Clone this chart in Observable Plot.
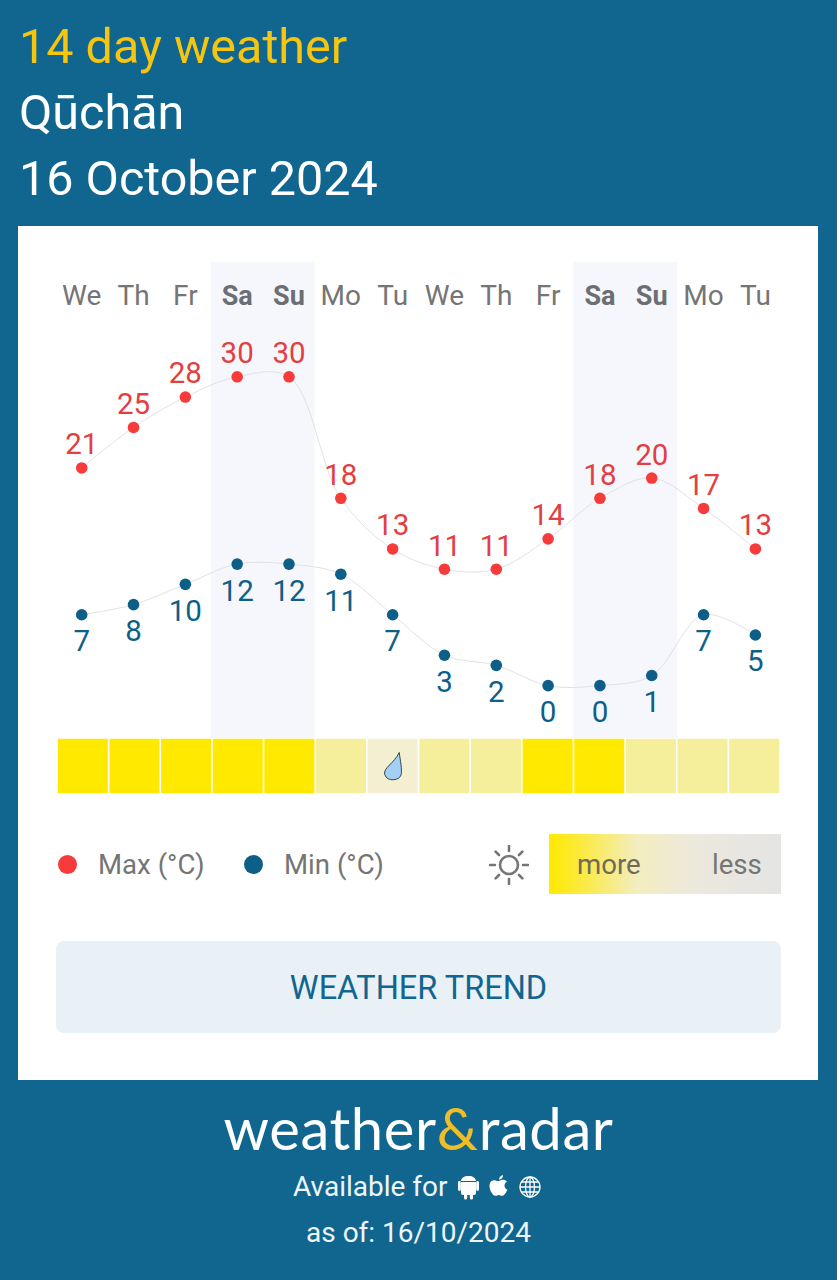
<!DOCTYPE html>
<html>
<head>
<meta charset="utf-8">
<script src="https://cdn.jsdelivr.net/npm/d3@7"></script>
<script src="https://cdn.jsdelivr.net/npm/@observablehq/plot@0.6"></script>
<style>
html,body{margin:0;padding:0;background:#10668f;}
#page{position:relative;width:837px;height:1280px;overflow:hidden;background:#10668f;font-family:Roboto,sans-serif;}
.abs{position:absolute;white-space:nowrap;}
.line{left:19px;font-size:48.5px;line-height:60px;color:#fff;}
#card{position:absolute;left:18px;top:226px;width:800px;height:854px;background:#fff;}
.plot{position:absolute;left:0;display:block;}
.leg{font-size:27.6px;line-height:36px;color:#757575;}
.dot{width:19px;height:19px;border-radius:50%;}
#grad{left:549px;top:834px;width:232px;height:60px;background:linear-gradient(to right,#ffe900 0%,#fbea40 14%,#f3edc0 38%,#ece9dc 62%,#e4e4e4 100%);}
#btn{left:56px;top:941px;width:725px;height:92px;background:#e9f0f6;border-radius:8px;color:#10668f;font-size:32.5px;line-height:94px;text-align:center;}
#logo{left:0;width:837px;top:1090px;text-align:center;color:#fff;font-family:Lato,sans-serif;font-size:58px;line-height:76px;letter-spacing:.6px;}
#logo span{color:#efbd27;font-weight:400;}
.foot{color:#eef6fa;font-size:28px;line-height:36px;}
</style>
</head>
<body>
<div id="page">
  <div class="abs line" style="top:17px;color:#f5c50f">14 day weather</div>
  <div class="abs line" style="top:83px">Qūchān</div>
  <div class="abs line" style="top:149px">16 October 2024</div>
  <div id="card"></div>
  <div id="chart"></div>
  <div id="strip"></div>

  <div class="abs dot" style="left:58px;top:855px;background:#f73b3b"></div>
  <div class="abs leg" style="left:98px;top:847px">Max (°C)</div>
  <div class="abs dot" style="left:244px;top:855px;background:#0e5f88"></div>
  <div class="abs leg" style="left:284px;top:847px">Min (°C)</div>
  <svg class="abs" style="left:489px;top:845px" width="40" height="40" viewBox="-20 -20 40 40" fill="none" stroke="#757575" stroke-width="2.6" stroke-linecap="round">
    <circle r="9"/>
    <path d="M0-19V-14M0 14V19M-19 0H-14M14 0H19M-13.4-13.4L-10-10M10 10L13.4 13.4M-13.4 13.4L-10 10M10-10L13.4-13.4"/>
  </svg>
  <div class="abs" id="grad"></div>
  <div class="abs leg" style="left:577px;top:847px;color:#6e6c58">more</div>
  <div class="abs leg" style="left:712px;top:847px">less</div>

  <div class="abs" id="btn">WEATHER TREND</div>

  <div class="abs" id="logo">weather<span>&amp;</span>radar</div>
  <div class="abs foot" style="left:293px;top:1169px">Available for</div>
  <svg class="abs" style="left:457px;top:1174px" width="86" height="26" viewBox="0 0 86 26" fill="#fff">
    <path d="M4 8h15v11a2 2 0 0 1-2 2h-1v3a1.6 1.6 0 0 1-3.200 0v-3h-2.600v3a1.600 1.600 0 0 1-3.200 0v-3H6a2 2 0 0 1-2-2zM1 8.500a1.400 1.400 0 0 1 2.800 0v7a1.400 1.400 0 0 1-2.800 0zM19.200 8.500a1.400 1.400 0 0 1 2.800 0v7a1.400 1.400 0 0 1-2.800 0zM4 7c.3-3 3-5 7.500-5S18.700 4 19 7z"/>
    <path transform="translate(-4,0)" d="M44 7c-2-1.500-5-.5-6 .5-2.500 2.500-1.500 8 .5 11 1 1.500 2.200 3.500 4 3.300 1.200-.1 1.800-.9 3.300-.9s2 .9 3.300.9c1.800 0 3-2 4-3.500.6-1 1-2 1.200-2.600-3.500-1.500-3.800-6.300-.4-8-1.300-2-4.500-2.500-6.300-1.500-1.300.7-2.300.9-3.600.8zM46 5.500c0-2 1.500-4 4-4.500.2 2.300-1.600 4.500-4 4.500z"/>
    <g transform="translate(73,13)" fill="none" stroke="#fff" stroke-width="1.300">
      <circle r="10"/><ellipse rx="4.500" ry="10"/><path d="M-10 0H10M-8.500-5H8.500M-8.500 5H8.500M0-10V10"/>
    </g>
  </svg>
  <div class="abs foot" style="left:306px;top:1215px">as of: 16/10/2024</div>
</div>
<script>
const days = ["We","Th","Fr","Sa","Su","Mo","Tu","We","Th","Fr","Sa","Su","Mo","Tu"];
const maxTemps = [21,25,28,30,30,18,13,11,11,14,18,20,17,13];
const minTemps = [7,8,10,12,12,11,7,3,2,0,0,1,7,5];
const sunshine = ["high","high","high","high","high","low","rain","low","low","high","high","low","low","low"];
const sunLevels = ["high","low","rain"];
const sunColors = ["#ffe900","#f5ef9c","#f5efd2"];

const index = days.map((_, i) => i);
const weekend = index.filter(i => days[i] === "Sa" || days[i] === "Su");
const weekday = index.filter(i => !weekend.includes(i));
const rainDays = index.filter(i => sunshine[i] === "rain");

const RED = "#f73b3b", REDTXT = "#e23f42", BLUE = "#0e5f88";
const xOpts = {type:"band", domain:index, padding:0, round:false, axis:null};
const dropSymbol = {
  draw(ctx, size){
    const s = Math.sqrt(size/Math.PI)/14;
    ctx.moveTo(6*s,-14*s);
    ctx.bezierCurveTo(7*s,-7*s,9*s,3*s,8*s,8*s);
    ctx.bezierCurveTo(7*s,14*s,-6*s,16*s,-8.500*s,8*s);
    ctx.bezierCurveTo(-10*s,1*s,1*s,-3*s,6*s,-14*s);
    ctx.closePath();
  }
};

const chart = Plot.plot({
  width:837, height:476,
  marginLeft:55.3, marginRight:56.2, marginTop:0, marginBottom:0,
  style:{background:"transparent", fontFamily:"Roboto, sans-serif", overflow:"visible"},
  x:xOpts,
  y:{domain:[-5.715,41.285], range:[476,0], axis:null},
  marks:[
    Plot.cell(weekend,{x:d=>d, fill:"#f5f7fd"}),
    Plot.text(weekday,{x:d=>d, text:d=>days[d], frameAnchor:"top", dy:34, lineAnchor:"middle", fontSize:28, fill:"#757575"}),
    Plot.text(weekend,{x:d=>d, text:d=>days[d], frameAnchor:"top", dy:34, lineAnchor:"middle", fontSize:27, fontWeight:700, fill:"#6b6e73"}),
    Plot.line(index,{x:d=>d, y:d=>maxTemps[d], curve:"catmull-rom", stroke:"#e2e2e2", strokeWidth:1}),
    Plot.line(index,{x:d=>d, y:d=>minTemps[d], curve:"catmull-rom", stroke:"#e2e2e2", strokeWidth:1, dy:5}),
    Plot.dot(index,{x:d=>d, y:d=>maxTemps[d], r:5.800, fill:RED}),
    Plot.dot(index,{x:d=>d, y:d=>minTemps[d], r:5.800, fill:BLUE, dy:5}),
    Plot.text(index,{x:d=>d, y:d=>maxTemps[d], text:d=>String(maxTemps[d]), dy:-23, lineAnchor:"middle", fontSize:29.500, fill:REDTXT}),
    Plot.text(index,{x:d=>d, y:d=>minTemps[d], text:d=>String(minTemps[d]), dy:32, lineAnchor:"middle", fontSize:29.500, fill:BLUE})
  ]
});
chart.classList.add("plot");
chart.style.position = "absolute";
chart.style.top = "262px";
chart.style.left = "0";
document.getElementById("chart").appendChild(chart);

const strip = Plot.plot({
  width:837, height:56,
  marginLeft:57, marginRight:57, marginTop:0, marginBottom:0,
  style:{background:"transparent"},
  x:xOpts,
  color:{type:"ordinal", domain:sunLevels, range:sunColors},
  marks:[
    Plot.cell(index,{x:d=>d, fill:d=>sunshine[d], inset:0.8}),
    Plot.dot(rainDays,{x:d=>d, frameAnchor:"middle", symbol:dropSymbol, r:14, fill:"#a5d0f5", stroke:"#33454f", strokeWidth:1})
  ]
});
strip.classList.add("plot");
strip.style.position = "absolute";
strip.style.top = "738px";
strip.style.left = "0";
document.getElementById("strip").appendChild(strip);
</script>
</body>
</html>
